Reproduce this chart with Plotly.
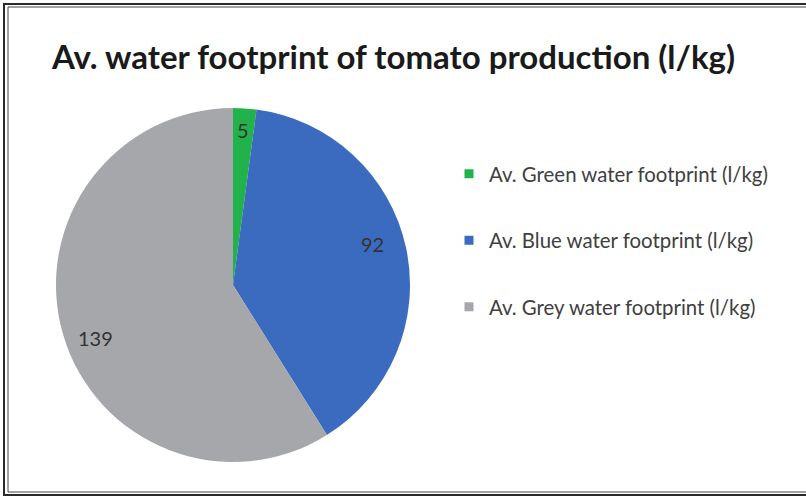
import numpy as np
import plotly.graph_objects as go

# ---- data ----
categories = [
    "Av. Green water footprint (l/kg)",
    "Av. Blue water footprint (l/kg)",
    "Av. Grey water footprint (l/kg)",
]
values = [5, 92, 139]
title_text = "Av. water footprint of tomato production (l/kg)"

# ---- style ----
colors = ["#21b24b", "#3b6bbf", "#a6a7aa"]
W, H = 806, 497
cx, cy, R = 233, 285, 177          # pie centre / radius in pixels
label_r = [0.88, 0.82, 0.83]       # radial position of value labels (fraction of R)
label_shift = [0.0, -4.0, -5.0]    # angular nudge of value labels (degrees)

fig = go.Figure()
fig.add_trace(go.Pie(
    labels=categories, values=values, sort=False, direction="clockwise", rotation=0,
    marker=dict(colors=colors, line=dict(width=0)), textinfo="none", showlegend=False,
    domain=dict(x=[(cx - R) / W, (cx + R) / W], y=[1 - (cy + R) / H, 1 - (cy - R) / H]),
    hoverinfo="label+value",
))

# value labels placed at the slice mid-angles computed from the data
total = float(sum(values))
cum = np.cumsum([0] + values)
for i, v in enumerate(values):
    mid = (cum[i] + cum[i + 1]) / 2 / total * 2 * np.pi + np.radians(label_shift[i])
    px = cx + label_r[i] * R * np.sin(mid)
    py = cy - label_r[i] * R * np.cos(mid)
    fig.add_annotation(x=px / W, y=1 - py / H, xref="paper", yref="paper", text=str(v),
                       xanchor="center", yanchor="middle", showarrow=False,
                       font=dict(family="Lato", size=20, color="#333333"))

# legend entries
for name, col in zip(categories, colors):
    fig.add_trace(go.Scatter(x=[None], y=[None], mode="markers", name=name, legendgroup=name,
                             marker=dict(symbol="square", size=9, color=col), hoverinfo="skip"))

# double frame
fig.add_shape(type="rect", xref="paper", yref="paper", x0=4 / W, x1=1.05, y0=1 - 495 / H, y1=1 - 4 / H,
              line=dict(color="#2a2a2a", width=2))
fig.add_shape(type="rect", xref="paper", yref="paper", x0=8 / W, x1=1.05, y0=1 - 492 / H, y1=1 - 7 / H,
              line=dict(color="#444444", width=1))

fig.update_layout(
    width=W, height=H, margin=dict(l=0, r=0, t=0, b=0),
    paper_bgcolor="white", plot_bgcolor="white",
    xaxis=dict(visible=False), yaxis=dict(visible=False),
    title=dict(text="<b>" + title_text + "</b>", x=52 / W, xanchor="left", y=1 - 57 / H, yanchor="middle",
               font=dict(family="Lato", size=33, color="#1a1a1a")),
    legend=dict(x=449 / W, xanchor="left", y=1 - 154 / H, yanchor="top", tracegroupgap=37,
                font=dict(family="Lato", size=20.4, color="#404040"), bgcolor="rgba(0,0,0,0)"),
    showlegend=True,
)

fig.write_html("out.html")
